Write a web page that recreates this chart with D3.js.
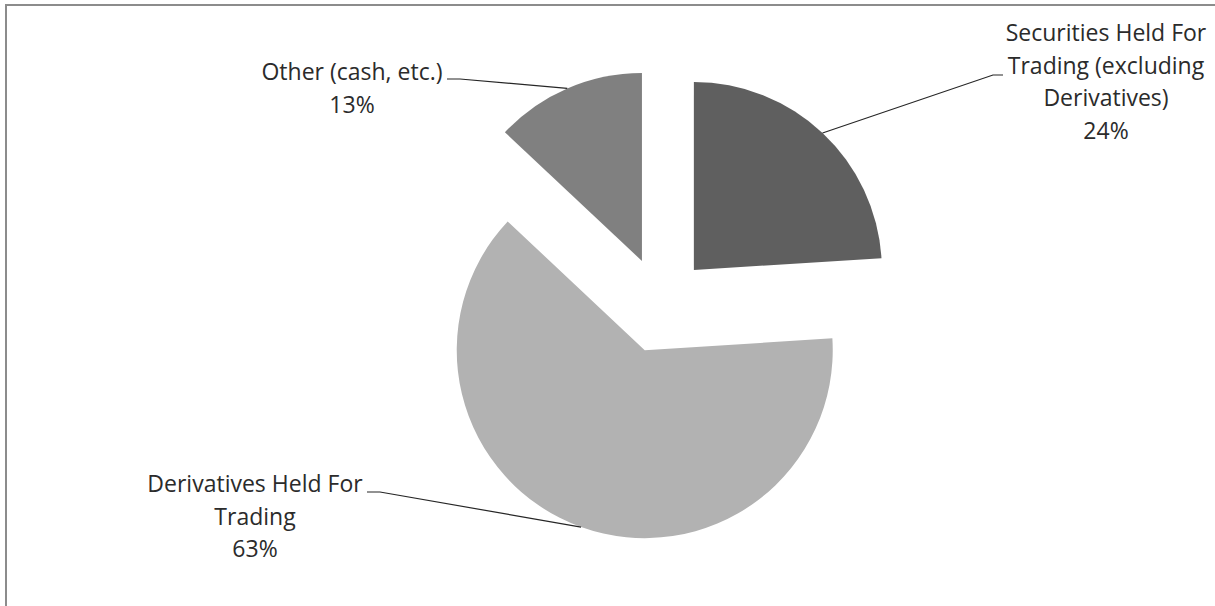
<!DOCTYPE html>
<html><head><meta charset="utf-8">
<script src="https://cdn.jsdelivr.net/npm/d3@7"></script>
<style>body{margin:0;background:#fff;}svg{display:block;}</style>
</head><body>
<svg id="chart" width="1215" height="606"></svg>
<script>
const categories = ["Securities Held For Trading (excluding Derivatives)", "Derivatives Held For Trading", "Other (cash, etc.)"];
const values = [24, 63, 13];
const labelLines = [
  ["Securities Held For", "Trading (excluding", "Derivatives)", "24%"],
  ["Derivatives Held For", "Trading", "63%"],
  ["Other (cash, etc.)", "13%"]
];
const colors = ["#5f5f5f", "#b2b2b2", "#808080"];

const svg = d3.select("#chart");
svg.append("rect").attr("x", 6).attr("y", 5).attr("width", 1300).attr("height", 700)
  .attr("fill", "#fff").attr("stroke", "#8c8c8c").attr("stroke-width", 2);

const cx = 661, cy = 305, R = 188, explode = 48;
const pie = d3.pie().sort(null).value(d => d)(values);
const arc = d3.arc().innerRadius(0).outerRadius(R);
const g = svg.append("g").attr("transform", `translate(${cx},${cy})`);

function offset(d, r) {
  const a = (d.startAngle + d.endAngle) / 2;
  return [Math.sin(a) * r, -Math.cos(a) * r];
}

g.selectAll("path.slice").data(pie).enter().append("path")
  .attr("class", "slice")
  .attr("d", arc)
  .attr("fill", (d, i) => colors[i])
  .attr("transform", d => { const o = offset(d, explode); return `translate(${o[0]},${o[1]})`; });

const labelLayout = [
  {x: 1106, y: 33, elbow: [993, 75], end: [1003, 75]},
  {x: 255, y: 484, elbow: [380, 492], end: [367, 492]},
  {x: 352, y: 72, elbow: [460, 79], end: [447, 79]}
];
const lineH = 32.7;

pie.forEach((d, i) => {
  const o = offset(d, explode);
  const p = offset(d, R);
  const start = [cx + o[0] + p[0], cy + o[1] + p[1]];
  const L = labelLayout[i];
  svg.append("path")
    .attr("d", d3.line()([start, L.elbow, L.end]))
    .attr("fill", "none").attr("stroke", "#262626").attr("stroke-width", 1.2);
  const t = svg.append("text")
    .attr("text-anchor", "middle")
    .attr("font-family", "'Open Sans', sans-serif")
    .attr("font-size", 23)
    .attr("fill", "#2b2b2b");
  labelLines[i].forEach((ln, k) => {
    t.append("tspan").attr("x", L.x).attr("y", L.y + k * lineH).attr("dy", "0.35em").text(ln);
  });
});
</script>
</body></html>
